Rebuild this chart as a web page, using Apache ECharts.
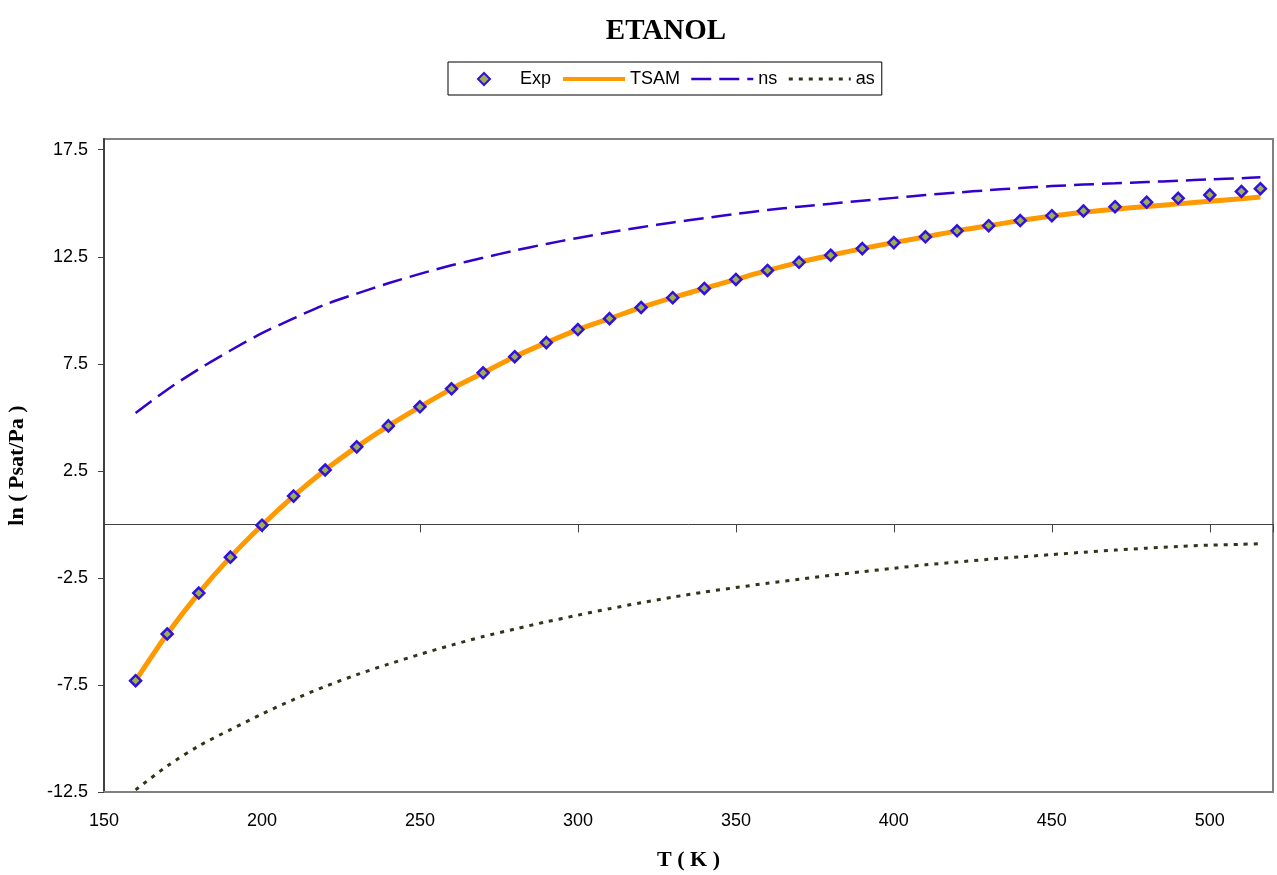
<!DOCTYPE html>
<html>
<head>
<meta charset="utf-8">
<script src="https://cdn.jsdelivr.net/npm/echarts@6/dist/echarts.min.js"></script>
<style>
html,body{margin:0;padding:0;background:#fff;}
#chart{width:1277px;height:875px;}
</style>
</head>
<body>
<div id="chart"></div>
<script>
// Temperatures (K)
var T = [160,170,180,190,200,210,220,230,240,250,260,270,280,290,300,310,320,330,340,350,360,370,380,390,400,410,420,430,440,450,460,470,480,490,500,510,516];
// ln(Psat/Pa) experimental
var expVals = [-7.30,-5.12,-3.21,-1.53,-0.04,1.32,2.54,3.62,4.60,5.49,6.33,7.08,7.83,8.49,9.10,9.61,10.13,10.59,11.02,11.44,11.86,12.24,12.57,12.88,13.16,13.43,13.71,13.95,14.19,14.42,14.64,14.84,15.05,15.23,15.39,15.55,15.68];
// TSAM model
var tsamVals = [-7.30,-5.12,-3.21,-1.53,-0.04,1.32,2.54,3.62,4.60,5.49,6.33,7.08,7.83,8.49,9.10,9.61,10.13,10.59,11.02,11.44,11.86,12.24,12.57,12.88,13.16,13.43,13.71,13.95,14.19,14.40,14.58,14.72,14.85,14.97,15.09,15.21,15.29];
// ns model
var nsVals = [5.20,6.29,7.25,8.12,8.93,9.62,10.27,10.78,11.26,11.70,12.10,12.45,12.79,13.10,13.38,13.64,13.88,14.10,14.30,14.50,14.68,14.84,14.98,15.12,15.25,15.38,15.50,15.61,15.71,15.80,15.87,15.93,15.99,16.05,16.11,16.17,16.21];
// as model
var asVals = [-12.40,-11.29,-10.35,-9.59,-8.86,-8.18,-7.57,-7.02,-6.53,-6.07,-5.64,-5.24,-4.89,-4.55,-4.24,-3.94,-3.66,-3.40,-3.16,-2.95,-2.75,-2.56,-2.38,-2.21,-2.05,-1.89,-1.76,-1.63,-1.52,-1.41,-1.30,-1.20,-1.11,-1.03,-0.97,-0.93,-0.90];

function pairs(xs, ys){ return xs.map(function(x,i){ return [x, ys[i]]; }); }

var chart = echarts.init(document.getElementById('chart'), null, {renderer:'canvas'});
var serif = '"Liberation Serif","Times New Roman",serif';
var sans = '"Liberation Sans",Arial,sans-serif';
var hideSym = {color:'rgba(0,0,0,0)', borderWidth:0, opacity:0};
chart.setOption({
  animation:false,
  backgroundColor:'#ffffff',
  title:{
    text:'ETANOL', left:661, top:12, textAlign:'center',
    textStyle:{fontFamily:serif, fontWeight:'bold', fontSize:29, color:'#000'}
  },
  legend:{
    left:448, top:62,
    orient:'horizontal',
    itemWidth:62, itemHeight:15, itemGap:10,
    padding:[8,7,7,5],
    borderColor:'#000', borderWidth:1,
    textStyle:{fontFamily:sans, fontSize:18, color:'#000'},
    data:[
      {name:'Exp'},
      {name:'TSAM', itemStyle:hideSym, lineStyle:{width:4}},
      {name:'ns', itemStyle:hideSym, lineStyle:{width:2.5}},
      {name:'as', itemStyle:hideSym, lineStyle:{width:3}}
    ]
  },
  grid:{
    left:104, right:4, top:139, bottom:83,
    show:true, borderColor:'#808080', borderWidth:2,
    containLabel:false, outerBoundsMode:'none'
  },
  xAxis:[{
    type:'value', min:150, max:520, interval:50,
    position:'bottom',
    axisLine:{onZero:false, show:true, lineStyle:{color:'#808080', width:2}},
    axisTick:{show:false},
    splitLine:{show:false},
    axisLabel:{fontFamily:sans, fontSize:18, color:'#000', margin:20, showMaxLabel:false},
    name:'T ( K )', nameLocation:'middle', nameGap:57,
    nameTextStyle:{fontFamily:serif, fontWeight:'bold', fontSize:22, color:'#000'}
  },{
    type:'value', min:150, max:520, interval:50,
    position:'bottom',
    axisLine:{onZero:true, onZeroAxisIndex:0, show:true, lineStyle:{color:'#404040', width:1}},
    axisTick:{show:true, inside:false, length:8, lineStyle:{color:'#404040', width:1}},
    axisLabel:{show:false},
    splitLine:{show:false}
  }],
  yAxis:{
    type:'value', min:-12.5, max:18, interval:5,
    axisLine:{show:true, onZero:false, lineStyle:{color:'#404040', width:2}},
    axisTick:{show:true, inside:false, length:6, lineStyle:{color:'#404040', width:1}},
    splitLine:{show:false},
    axisLabel:{fontFamily:sans, fontSize:18, color:'#000', margin:16, showMaxLabel:false},
    name:'ln ( Psat/Pa )', nameLocation:'middle', nameGap:76,
    nameTextStyle:{fontFamily:serif, fontWeight:'bold', fontSize:22, color:'#000'}
  },
  series:[{
    name:'TSAM', type:'line', xAxisIndex:0, data:pairs(T, tsamVals),
    showSymbol:false, symbol:'none', smooth:0.3, z:3,
    lineStyle:{color:'#FF9900', width:5}, itemStyle:{color:'#FF9900'}
  },{
    name:'ns', type:'line', xAxisIndex:0, data:pairs(T, nsVals),
    showSymbol:false, symbol:'none', smooth:0.3, z:2,
    lineStyle:{color:'#3300CC', width:2.5, type:[20,8]}, itemStyle:{color:'#3300CC'}
  },{
    name:'as', type:'line', xAxisIndex:0, data:pairs(T, asVals),
    showSymbol:false, symbol:'none', smooth:0.3, z:2,
    lineStyle:{color:'#333319', width:3, type:[4,6]}, itemStyle:{color:'#333319'}
  },{
    name:'Exp', type:'line', xAxisIndex:0, data:pairs(T, expVals),
    symbol:'diamond', symbolSize:11, showSymbol:true, z:5,
    lineStyle:{width:0, opacity:0},
    itemStyle:{color:'#9CB050', borderColor:'#3311DD', borderWidth:2.5, opacity:1}
  }]
});
</script>
</body>
</html>
